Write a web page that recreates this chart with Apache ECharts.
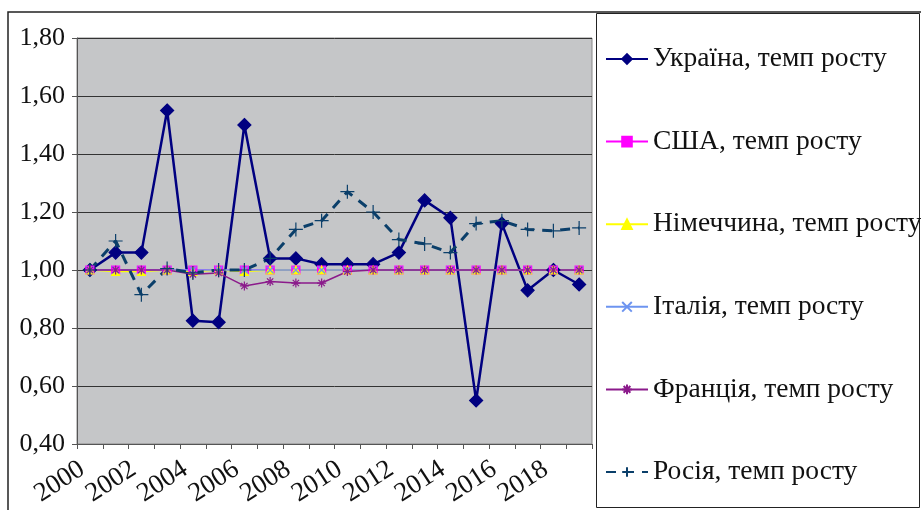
<!DOCTYPE html>
<html lang="uk">
<head>
    <meta charset="UTF-8">
    <title>Темп росту</title>
    <script type="text/javascript" src="https://cdn.jsdelivr.net/npm/echarts@6/dist/echarts.min.js"></script>
    <style>
        html, body { margin: 0; padding: 0; background: #fff; }
        #chart { width: 921px; height: 510px; }
    </style>
</head>
<body>
    <div id="chart"></div>
    <script>
        // роки
        var years = ['2000','2001','2002','2003','2004','2005','2006','2007','2008','2009',
                     '2010','2011','2012','2013','2014','2015','2016','2017','2018','2019'];

        // темп росту по країнах
        var ukraine = [1.00,1.06,1.06,1.55,0.825,0.82,1.50,1.04,1.04,1.02,1.02,1.02,1.06,1.24,1.18,0.55,1.16,0.93,1.00,0.95];
        var usa     = [1.00,1.00,1.00,1.00,1.00,1.00,1.00,1.00,1.00,1.00,1.00,1.00,1.00,1.00,1.00,1.00,1.00,1.00,1.00,1.00];
        var germany = [1.00,0.995,0.995,1.00,0.995,1.00,0.995,1.00,1.00,1.00,1.00,1.00,1.00,1.00,1.00,1.00,1.00,1.00,1.00,1.00];
        var italy   = [1.00,1.00,1.00,1.00,1.00,1.00,1.00,1.00,1.00,1.00,1.00,1.00,1.00,1.00,1.00,1.00,1.00,1.00,1.00,1.00];
        var france  = [1.00,1.00,1.00,1.00,0.985,0.99,0.945,0.96,0.955,0.955,0.995,1.00,1.00,1.00,1.00,1.00,1.00,1.00,1.00,1.00];
        var russia  = [1.00,1.10,0.915,1.005,0.99,1.00,1.00,1.04,1.14,1.17,1.27,1.20,1.105,1.09,1.06,1.16,1.17,1.14,1.135,1.145];

        var names = ['Україна, темп росту','США, темп росту','Німеччина, темп росту',
                     'Італія, темп росту','Франція, темп росту','Росія, темп росту'];

        var serif = "'Liberation Serif', 'Times New Roman', serif";

        function ser(name, data, color, symbol, size, width, dash) {
            return {
                name: name,
                type: 'line',
                data: data,
                symbol: symbol,
                symbolSize: size,
                showAllSymbol: true,
                lineStyle: { color: color, width: width, type: dash || 'solid' },
                itemStyle: { color: color, borderColor: color, borderWidth: 1.2 }
            };
        }

        var chart = echarts.init(document.getElementById('chart'));
        var option = {
            animation: false,
            backgroundColor: '#fff',
            graphic: [
                { type: 'rect', shape: { x: 8, y: 12, width: 920, height: 505 },
                  style: { fill: 'none', stroke: '#222', lineWidth: 1.5 }, z: 100 },
                { type: 'rect', shape: { x: 596.5, y: 13.5, width: 323, height: 494 },
                  style: { fill: '#fff', stroke: '#222', lineWidth: 1 }, z: -1 }
            ],
            grid: {
                left: 77, right: 329, top: 38, bottom: 66,
                show: true, backgroundColor: '#c5c6c8', borderColor: '#888', borderWidth: 1
            },
            legend: {
                orient: 'vertical',
                left: 600,
                top: 40,
                itemWidth: 42,
                itemHeight: 12,
                itemGap: 54.6,
                textStyle: { fontFamily: serif, fontSize: 27.5, color: '#111', lineHeight: 27 },
                data: names
            },
            xAxis: {
                type: 'category',
                data: years,
                boundaryGap: true,
                axisLine: { lineStyle: { color: '#555', width: 1 } },
                axisTick: { show: true, length: 5, interval: 0, lineStyle: { color: '#555' } },
                axisLabel: {
                    interval: 1, rotate: 33, margin: 18,
                    padding: [0, 9, 0, 0],
                    fontFamily: serif, fontSize: 27, color: '#111'
                },
                splitLine: { show: false }
            },
            yAxis: {
                type: 'value',
                min: 0.4, max: 1.8, interval: 0.2,
                axisLine: { show: true, lineStyle: { color: '#555' } },
                axisTick: { show: true, length: 5, lineStyle: { color: '#555' } },
                axisLabel: {
                    margin: 12, fontFamily: serif, fontSize: 26, color: '#111',
                    formatter: function (v) { return v.toFixed(2).replace('.', ','); }
                },
                splitLine: { lineStyle: { color: '#333', width: 1 } }
            },
            series: [
                ser(names[0], ukraine, '#000080', 'diamond', 13, 2.5),
                ser(names[1], usa, '#ff00ff', 'rect', 8, 1.5),
                ser(names[2], germany, '#ffff00', 'triangle', 8, 1.5),
                ser(names[3], italy, '#6d94f0', 'path://M0,0L10,10M10,0L0,10', 7, 1.5),
                ser(names[4], france, '#8b1a8b', 'path://M5,0L5,10M0,5L10,5M1.5,1.5L8.5,8.5M8.5,1.5L1.5,8.5', 9, 1.5),
                ser(names[5], russia, '#0b3f6a', 'path://M5,0L5,10M0,5L10,5', 14, 3, [10, 8])
            ]
        };
        chart.setOption(option);
    </script>
</body>
</html>
